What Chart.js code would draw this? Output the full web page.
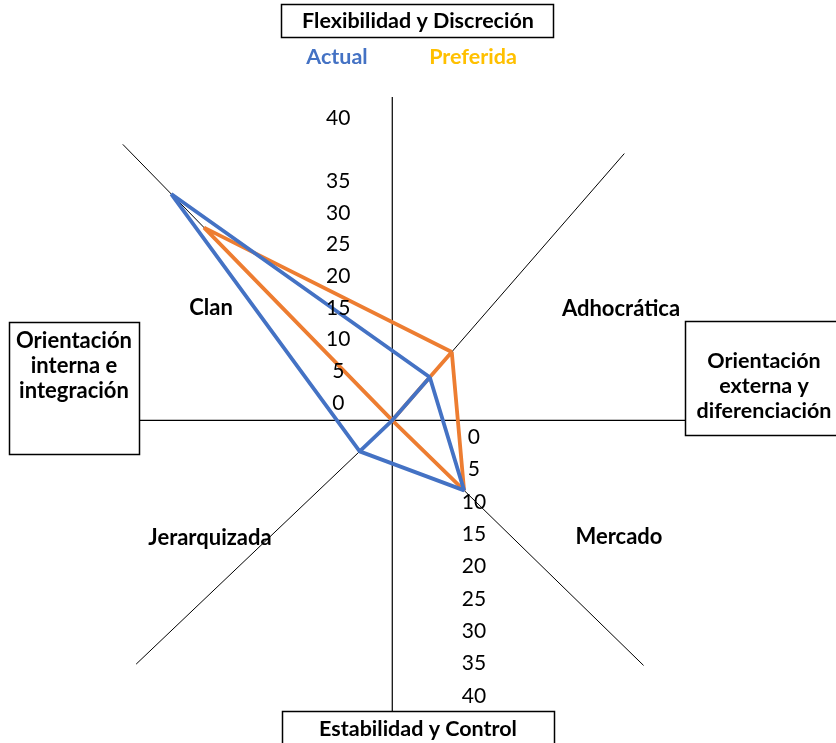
<!DOCTYPE html>
<html lang="es">
<head>
<meta charset="utf-8">
<title>Perfil de cultura organizacional</title>
<script src="https://cdn.jsdelivr.net/npm/chart.js@4.4.1/dist/chart.umd.min.js"></script>
<style>
  html, body { margin: 0; padding: 0; background: #fff; }
  canvas { display: block; }
</style>
</head>
<body>
<canvas id="perfil" width="836" height="743"></canvas>
<script>
// Culture types, clockwise from the upper-left quadrant
const cultures = ['Clan', 'Adhocrática', 'Mercado', 'Jerarquizada'];
// Scores for each culture type
const actual = [49.2, 8.9, 15.6, 7.0];
const preferida = [41.9, 14.1, 15.6, 0];
// Value labels written along the vertical axis
const upperTicks = ['40', '35', '30', '25', '20', '15', '10', '5', '0'];
const lowerTicks = ['0', '5', '10', '15', '20', '25', '30', '35', '40'];
const seriesNames = ['Actual', 'Preferida'];

const FONT = 'Lato, "Open Sans", "DejaVu Sans", sans-serif';
const BLUE = '#4472C4';
const ORANGE = '#ED7D31';
const GOLD = '#FFC000';

// Direction of each culture spoke (degrees, counter-clockwise from east) and its drawn length
const spokeAngle = { 'Clan': 134.3, 'Adhocrática': 49.0, 'Mercado': -44.3, 'Jerarquizada': 223.6 };
const spokeLength = { 'Clan': 60, 'Adhocrática': 55, 'Mercado': 54.6, 'Jerarquizada': 55 };

function polar(value, name) {
  const a = spokeAngle[name] * Math.PI / 180;
  return { x: value * Math.cos(a), y: value * Math.sin(a) };
}

// Outline of a profile, plus the stroke from Jerarquizada through the origin to Adhocrática
function profilePath(values) {
  const [clan, adh, mer, jer] = cultures.map((n, i) => polar(values[i], n));
  return [adh, clan, jer, mer, adh, { x: 0, y: 0 }, jer];
}

function text(ctx, str, x, y, opts) {
  ctx.font = (opts.bold ? 'bold ' : '') + opts.size + 'px ' + FONT;
  ctx.fillStyle = opts.color || '#000';
  ctx.textAlign = 'center';
  ctx.textBaseline = 'middle';
  ctx.fillText(str, x, y);
}

function box(ctx, x, y, w, h) {
  ctx.fillStyle = '#fff';
  ctx.fillRect(x, y, w, h);
  ctx.strokeStyle = '#000';
  ctx.lineWidth = 1.5;
  ctx.strokeRect(x, y, w, h);
}

const framePlugin = {
  id: 'cultureFrame',
  beforeDatasetsDraw(chart) {
    const { ctx, chartArea, scales: { x, y } } = chart;
    const X = v => x.getPixelForValue(v);
    const Y = v => y.getPixelForValue(v);
    ctx.save();
    ctx.strokeStyle = '#000';
    // Main cross, running between the side boxes
    ctx.lineWidth = 1.2;
    ctx.beginPath();
    ctx.moveTo(X(0), Y(50.3));
    ctx.lineTo(X(0), chartArea.bottom);
    ctx.moveTo(140, Y(0));
    ctx.lineTo(686, Y(0));
    ctx.stroke();
    // Culture spokes
    ctx.lineWidth = 1;
    ctx.beginPath();
    cultures.forEach(n => {
      const p = polar(spokeLength[n], n);
      ctx.moveTo(X(0), Y(0));
      ctx.lineTo(X(p.x), Y(p.y));
    });
    ctx.stroke();
    ctx.restore();
  },
  afterDatasetsDraw(chart) {
    const { ctx, scales: { x, y } } = chart;
    const X = v => x.getPixelForValue(v);
    const Y = v => y.getPixelForValue(v);
    ctx.save();

    // Value labels: the top label sits one step above the rest
    upperTicks.forEach(t => {
      const v = Number(t);
      text(ctx, t, X(-8.4), Y(2.7 + 0.985 * (v + (v === 40 ? 5 : 0))), { size: 21 });
    });
    lowerTicks.forEach(t => {
      const v = Number(t);
      text(ctx, t, X(12.7), Y(-2.6 - 1.007 * v), { size: 21 });
    });

    // Culture names
    const namePos = {
      'Clan': [211, 308], 'Adhocrática': [621, 309],
      'Mercado': [619, 537], 'Jerarquizada': [210, 538]
    };
    cultures.forEach(n => text(ctx, n, namePos[n][0], namePos[n][1], { size: 22, bold: true }));

    // Axis titles in boxes
    box(ctx, 281.5, 4.5, 272, 33);
    text(ctx, 'Flexibilidad y Discreción', 418, 21, { size: 21.5, bold: true });

    box(ctx, 282.5, 711.5, 272, 40);
    text(ctx, 'Estabilidad y Control', 418, 729, { size: 21.5, bold: true });

    box(ctx, 9.5, 322.5, 130, 132);
    ['Orientación', 'interna e', 'integración'].forEach((s, i) =>
      text(ctx, s, 74, 341 + i * 25, { size: 22, bold: true }));

    box(ctx, 685.5, 321.5, 160, 114);
    ['Orientación', 'externa y', 'diferenciación'].forEach((s, i) =>
      text(ctx, s, 764, 361 + i * 25, { size: 21.5, bold: true }));

    // Series key
    text(ctx, seriesNames[0], 337, 57, { size: 21.5, bold: true, color: BLUE });
    text(ctx, seriesNames[1], 473, 57, { size: 21.5, bold: true, color: GOLD });

    ctx.restore();
  }
};

new Chart(document.getElementById('perfil'), {
  type: 'scatter',
  data: {
    datasets: [
      { label: seriesNames[0], data: profilePath(actual), borderColor: BLUE },
      { label: seriesNames[1], data: profilePath(preferida), borderColor: ORANGE }
    ].map(d => Object.assign(d, {
      showLine: true,
      borderWidth: 3.8,
      borderJoinStyle: 'bevel',
      pointRadius: 0,
      pointHoverRadius: 0,
      fill: false,
      tension: 0
    }))
  },
  options: {
    responsive: false,
    animation: false,
    devicePixelRatio: 1,
    layout: { padding: 0 },
    plugins: {
      legend: { display: false },
      title: { display: false },
      tooltip: { enabled: false }
    },
    scales: {
      x: { type: 'linear', display: false, bounds: 'data', min: -61, max: 69 },
      y: { type: 'linear', display: false, bounds: 'data', min: -50.2, max: 65.4 }
    }
  },
  plugins: [framePlugin]
});
</script>
</body>
</html>
